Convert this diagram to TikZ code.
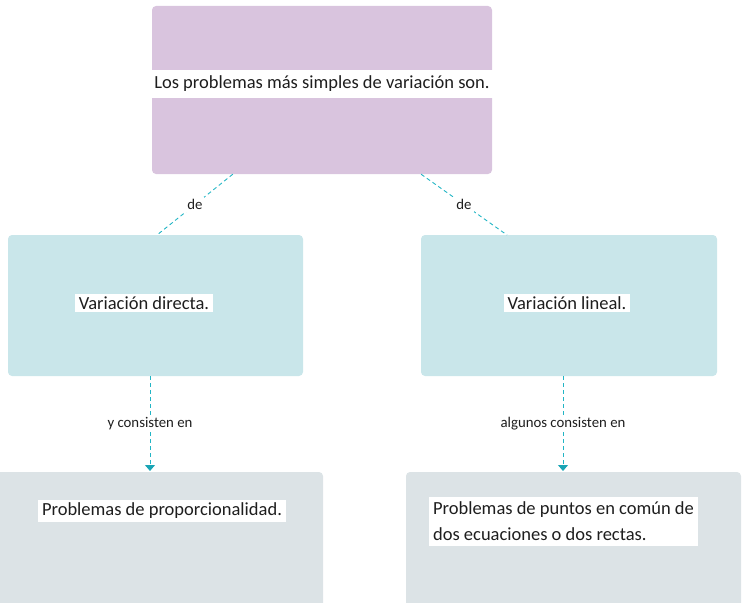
\documentclass[tikz,border=0pt]{standalone}
\usepackage{fontspec}
\setmainfont{Carlito}
\usetikzlibrary{arrows.meta,calc}
\definecolor{purp}{HTML}{D9C4DE}
\definecolor{tealbox}{HTML}{C9E6EA}
\definecolor{greybox}{HTML}{DCE3E6}
\definecolor{dashc}{HTML}{22B5C5}
\definecolor{tipc}{HTML}{1AA5B5}
\definecolor{txt}{HTML}{1E1E1E}
\begin{document}
\begin{tikzpicture}[x=1pt,y=-1pt,
  box/.style={rectangle,rounded corners=4pt,inner sep=0pt,draw=none},
  lab/.style={fill=white,inner xsep=4pt,inner ysep=3pt,text=txt,font=\fontsize{18.5}{26}\selectfont},
  conn/.style={draw=dashc,dashed,dash pattern=on 4pt off 3pt,line width=0.9pt},
  small/.style={fill=white,inner sep=2pt,text=txt,font=\fontsize{14.8}{17}\selectfont},
  tip/.style={-{Triangle[width=10pt,length=6pt,color=tipc]}}]
\useasboundingbox (0,0) rectangle (751,602);
\clip (0,0) rectangle (751,602);
% boxes
\node[box,fill=purp,minimum width=340pt,minimum height=168pt] (top) at (322,90) {};
\node[box,fill=tealbox,minimum width=295pt,minimum height=141pt] (ml) at (155.5,305.5) {};
\node[box,fill=tealbox,minimum width=296pt,minimum height=141pt] (mr) at (569,305.5) {};
\node[box,fill=greybox,minimum width=328pt,minimum height=178pt] (bl) at (159,561) {};
\node[box,fill=greybox,minimum width=335pt,minimum height=178pt] (br) at (573.5,561) {};
% texts
\node[lab,minimum width=340pt,minimum height=28pt] (ttop) at (322,84) {Los problemas más simples de variación son.};
\node[lab] (tml) at (144,303) {Variación directa.};
\node[lab] (tmr) at (567,303) {Variación lineal.};
\node[lab] (tbl) at (162,511) {Problemas de proporcionalidad.};
\node[lab,align=left,inner ysep=5pt] (tbr) at (563.5,521) {Problemas de puntos en común de\\dos ecuaciones o dos rectas.};
% connector anchors
\coordinate (a1) at ($(top.south west)!0.238!(top.south east)$);
\coordinate (a2) at ($(top.south west)!0.791!(top.south east)$);
\coordinate (b1) at (157,235);
\coordinate (b2) at (507,235);
\coordinate (c1) at (ml.south -| 150,0);
\coordinate (c2) at (mr.south -| 563,0);
\coordinate (d1) at (150,471);
\coordinate (d2) at (563,471);
\draw[conn] (a1) -- node[small] {de} (b1);
\draw[conn] (a2) -- node[small] {de} (b2);
\draw[conn,tip] (c1) -- node[small] {y consisten en} (d1);
\draw[conn,tip] (c2) -- node[small] {algunos consisten en} (d2);
\end{tikzpicture}
\end{document}
